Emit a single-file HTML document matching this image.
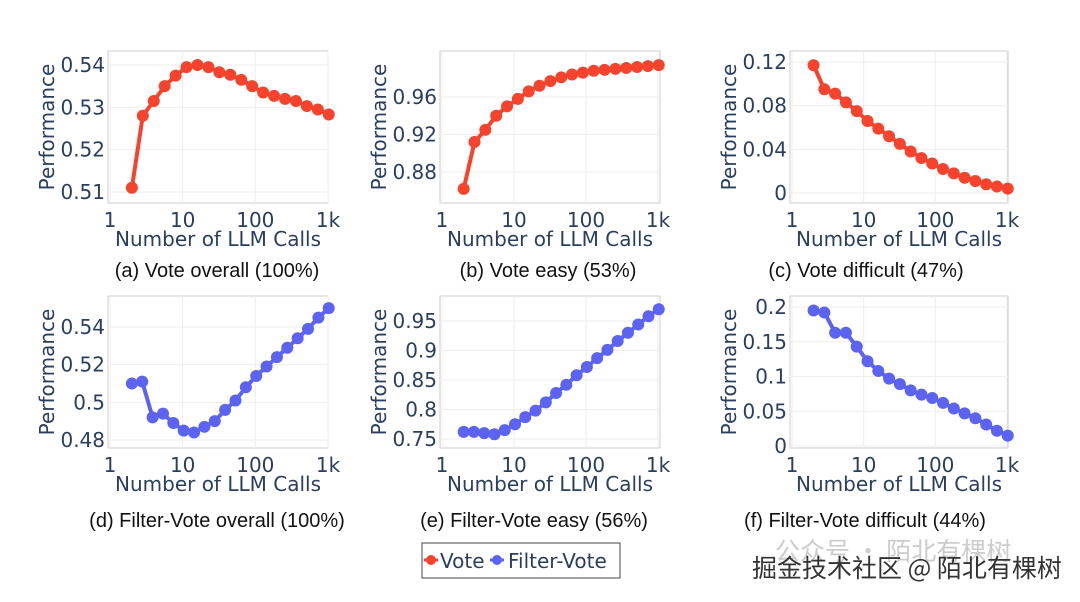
<!DOCTYPE html><html><head><meta charset="utf-8"><style>
body{margin:0;background:#fff;width:1080px;height:597px;overflow:hidden}
text{font-family:"DejaVu Sans","Liberation Sans",sans-serif}
</style></head><body>
<svg id="s" width="1080" height="597" xmlns="http://www.w3.org/2000/svg"></svg>
<script>
const S=document.getElementById('s');let h='';
const plots=[
{L:108,R:328,T:51,B:203,x1:110,xk:328,ya:[0.54,65],yb:[0.51,192],ticks:[[0.54,'0.54'],[0.53,'0.53'],[0.52,'0.52'],[0.51,'0.51']],c:'#f5432d',
d:[0.511,0.528,0.5315,0.535,0.5375,0.5395,0.54,0.5395,0.5383,0.5377,0.5365,0.535,0.5335,0.5327,0.532,0.5315,0.5303,0.5295,0.5283],cap:'(a) Vote overall (100%)',cx:217,cy:277},
{L:440,R:660,T:51,B:203,x1:442,xk:658,ya:[0.96,97],yb:[0.88,172],ticks:[[0.96,'0.96'],[0.92,'0.92'],[0.88,'0.88']],c:'#f5432d',
d:[0.862,0.912,0.925,0.94,0.95,0.958,0.966,0.972,0.977,0.981,0.984,0.986,0.988,0.989,0.990,0.991,0.992,0.993,0.994],cap:'(b) Vote easy (53%)',cx:548,cy:277},
{L:790,R:1008,T:51,B:203,x1:792,xk:1007,ya:[0.12,62],yb:[0,193],ticks:[[0.12,'0.12'],[0.08,'0.08'],[0.04,'0.04'],[0,'0']],c:'#f5432d',
d:[0.117,0.095,0.091,0.083,0.075,0.066,0.059,0.052,0.045,0.038,0.032,0.027,0.022,0.018,0.014,0.011,0.008,0.006,0.004],cap:'(c) Vote difficult (47%)',cx:866,cy:277},
{L:108,R:328,T:296,B:448,x1:110,xk:328,ya:[0.54,327],yb:[0.48,440],ticks:[[0.54,'0.54'],[0.52,'0.52'],[0.5,'0.5'],[0.48,'0.48']],c:'#5b63f0',
d:[0.51,0.511,0.492,0.494,0.489,0.485,0.484,0.487,0.490,0.496,0.501,0.508,0.514,0.519,0.524,0.529,0.534,0.539,0.545,0.550],cap:'(d) Filter-Vote overall (100%)',cx:217,cy:527},
{L:440,R:660,T:296,B:448,x1:442,xk:658,ya:[0.95,321],yb:[0.75,439],ticks:[[0.95,'0.95'],[0.9,'0.9'],[0.85,'0.85'],[0.8,'0.8'],[0.75,'0.75']],c:'#5b63f0',
d:[0.762,0.762,0.760,0.758,0.765,0.775,0.787,0.798,0.812,0.828,0.842,0.858,0.872,0.887,0.901,0.916,0.930,0.944,0.958,0.970],cap:'(e) Filter-Vote easy (56%)',cx:534,cy:527},
{L:790,R:1008,T:296,B:448,x1:792,xk:1007,ya:[0.2,307],yb:[0,446],ticks:[[0.2,'0.2'],[0.15,'0.15'],[0.1,'0.1'],[0.05,'0.05'],[0,'0']],c:'#5b63f0',
d:[0.195,0.192,0.163,0.163,0.143,0.122,0.108,0.097,0.089,0.080,0.074,0.069,0.062,0.054,0.047,0.040,0.031,0.022,0.015],cap:'(f) Filter-Vote difficult (44%)',cx:865,cy:527}];
const col='#2a3f5f';
plots.forEach(p=>{
 const X=v=>p.x1+(p.xk-p.x1)*v/3;
 const Y=v=>p.ya[1]+(v-p.ya[0])*(p.yb[1]-p.ya[1])/(p.yb[0]-p.ya[0]);
 h+=`<rect x="${p.L}" y="${p.T}" width="${p.R-p.L}" height="${p.B-p.T}" fill="#fff" stroke="#ccc" stroke-width="1"/>`;
 [0,1,2,3].forEach(i=>{h+=`<line x1="${X(i)}" x2="${X(i)}" y1="${p.T}" y2="${p.B}" stroke="#eee"/>`;
  h+=`<text x="${X(i)}" y="${p.B+24}" font-size="20" fill="${col}" text-anchor="middle">${['1','10','100','1k'][i]}</text>`});
 p.ticks.forEach(t=>{const y=Y(t[0]);h+=`<line x1="${p.L}" x2="${p.R}" y1="${y}" y2="${y}" stroke="#eee"/>`;
  h+=`<text x="${p.L-3}" y="${y+7}" font-size="20" fill="${col}" text-anchor="end">${t[1]}</text>`});
 h+=`<text x="${(p.L+p.R)/2}" y="${p.B+43}" font-size="20" fill="${col}" text-anchor="middle">Number of LLM Calls</text>`;
 h+=`<text transform="translate(${p.L-54},${(p.T+p.B)/2}) rotate(-90)" font-size="20" fill="${col}" text-anchor="middle">Performance</text>`;
 const n=p.d.length;const pts=p.d.map((v,i)=>[X(Math.log10(2)+i*(3.0103-Math.log10(2))/(n-1)),Y(v)]);
 h+=`<polyline fill="none" stroke="${p.c}" stroke-width="4" points="${pts.map(q=>q.join(',')).join(' ')}"/>`;
 pts.forEach(q=>h+=`<circle cx="${q[0]}" cy="${q[1]}" r="6" fill="${p.c}"/>`);
 h+=`<text x="${p.cx}" y="${p.cy}" font-size="20" fill="#111" text-anchor="middle" style="font-family:'Liberation Sans',sans-serif">${p.cap}</text>`;
});
h+=`<rect x="422" y="543" width="198" height="35" fill="#fff" stroke="#444"/>`;
h+=`<line x1="424" x2="438" y1="560" y2="560" stroke="#f5432d" stroke-width="3"/><circle cx="431" cy="560" r="5" fill="#f5432d"/>`;
h+=`<text x="440" y="568" font-size="20" fill="${col}">Vote</text>`;
h+=`<line x1="490" x2="504" y1="560" y2="560" stroke="#5b63f0" stroke-width="3"/><circle cx="497" cy="560" r="5" fill="#5b63f0"/>`;
h+=`<text x="508" y="568" font-size="20" fill="${col}">Filter-Vote</text>`;
h+=`<text x="775" y="560" font-size="25" fill="#ccc" style="font-family:'Noto Sans CJK SC',sans-serif">公众号 · 陌北有棵树</text>`;
h+=`<text x="752" y="577" font-size="25" fill="#333" style="font-family:'Noto Sans CJK SC',sans-serif">掘金技术社区 @ 陌北有棵树</text>`;
S.innerHTML=h;
</script></body></html>
